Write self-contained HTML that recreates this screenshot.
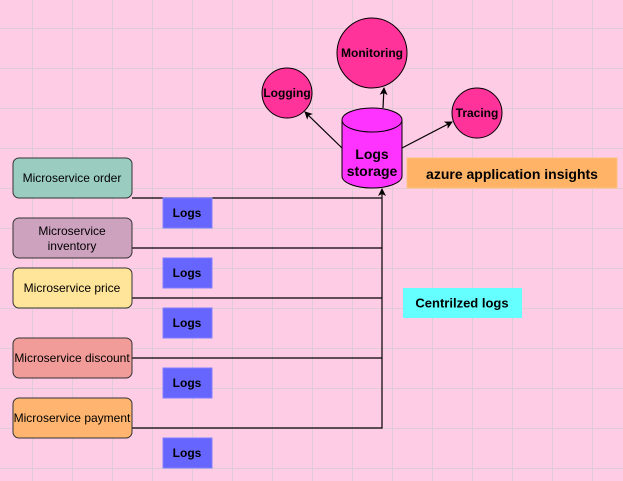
<!DOCTYPE html>
<html><head><style>
body{margin:0;width:623px;height:481px;overflow:hidden;background:#FFCCE6;}
svg{display:block}
text{font-family:"Liberation Sans",Arial,sans-serif;fill:#000;text-anchor:middle;dominant-baseline:central}
</style></head><body>
<svg width="623" height="481" xmlns="http://www.w3.org/2000/svg">
<defs>
<marker id="a" markerWidth="8" markerHeight="8" refX="7" refY="4" orient="auto" markerUnits="userSpaceOnUse"><path d="M0 0L8 4L0 8L2 4Z" fill="#000"/></marker>
</defs>
<g stroke="#E0CCD6" stroke-width="1">
<path d="M32.5 0V481M72.5 0V481M112.5 0V481M152.5 0V481M192.5 0V481M232.5 0V481M272.5 0V481M312.5 0V481M352.5 0V481M392.5 0V481M432.5 0V481M472.5 0V481M512.5 0V481M552.5 0V481M592.5 0V481"/>
<path d="M0 28.5H623M0 68.5H623M0 108.5H623M0 148.5H623M0 188.5H623M0 228.5H623M0 268.5H623M0 308.5H623M0 348.5H623M0 388.5H623M0 428.5H623M0 468.5H623"/>
</g>
<g stroke="#000" stroke-width="1.2" fill="none">
<path d="M132 198H382M132 248H382M132 298H382M132 358H382M132 428H382V189" marker-end="url(#a)"/>
<path d="M342 148L305 112" marker-end="url(#a)"/>
<path d="M383 108L384 88" marker-end="url(#a)"/>
<path d="M402 148L452 122" marker-end="url(#a)"/>
</g>
<g stroke="#333" stroke-width="1">
<rect x="13" y="158" width="119" height="40" rx="6" fill="#9ACCC0"/>
<rect x="13" y="218" width="119" height="40" rx="6" fill="#CDA2BE"/>
<rect x="13" y="268" width="119" height="40" rx="6" fill="#FFE599"/>
<rect x="13" y="338" width="119" height="40" rx="6" fill="#F19C99"/>
<rect x="13" y="398" width="119" height="40" rx="6" fill="#FFB570"/>
</g>
<g font-size="12">
<text x="72" y="178">Microservice order</text>
<text x="72" y="231">Microservice</text>
<text x="72" y="246">inventory</text>
<text x="72" y="288">Microservice price</text>
<text x="72" y="358">Microservice discount</text>
<text x="72" y="418">Microservice payment</text>
</g>
<g fill="#6666FF" stroke="#7F7FFF">
<rect x="163" y="198" width="49" height="30"/>
<rect x="163" y="258" width="49" height="30"/>
<rect x="163" y="308" width="49" height="30"/>
<rect x="163" y="368" width="49" height="30"/>
<rect x="163" y="438" width="49" height="30"/>
</g>
<g font-size="12" font-weight="bold">
<text x="187" y="213">Logs</text>
<text x="187" y="273">Logs</text>
<text x="187" y="323">Logs</text>
<text x="187" y="383">Logs</text>
<text x="187" y="453">Logs</text>
</g>
<path d="M342 120V176A30 12 0 0 0 402 176V120" fill="#FF33FF" stroke="#000"/>
<ellipse cx="372" cy="120" rx="30" ry="12" fill="#FF33FF" stroke="#000"/>
<text x="372" y="154" font-size="14" font-weight="bold">Logs</text>
<text x="372" y="171" font-size="14" font-weight="bold">storage</text>
<g fill="#FF3399" stroke="#000">
<ellipse cx="287" cy="93" rx="25" ry="25"/>
<ellipse cx="372" cy="53" rx="35" ry="35"/>
<ellipse cx="477" cy="113" rx="25" ry="25"/>
</g>
<g font-size="12" font-weight="bold">
<text x="287" y="93">Logging</text>
<text x="372" y="53">Monitoring</text>
<text x="477" y="113">Tracing</text>
</g>
<rect x="407" y="158" width="210" height="30" fill="#FFB366" stroke="#FFC080"/>
<text x="512" y="174" font-size="14" font-weight="bold">azure application insights</text>
<rect x="403" y="288" width="119" height="30" fill="#66FFFF"/>
<text x="462" y="303" font-size="13" font-weight="bold">Centrilzed logs</text>
</svg>
</body></html>
